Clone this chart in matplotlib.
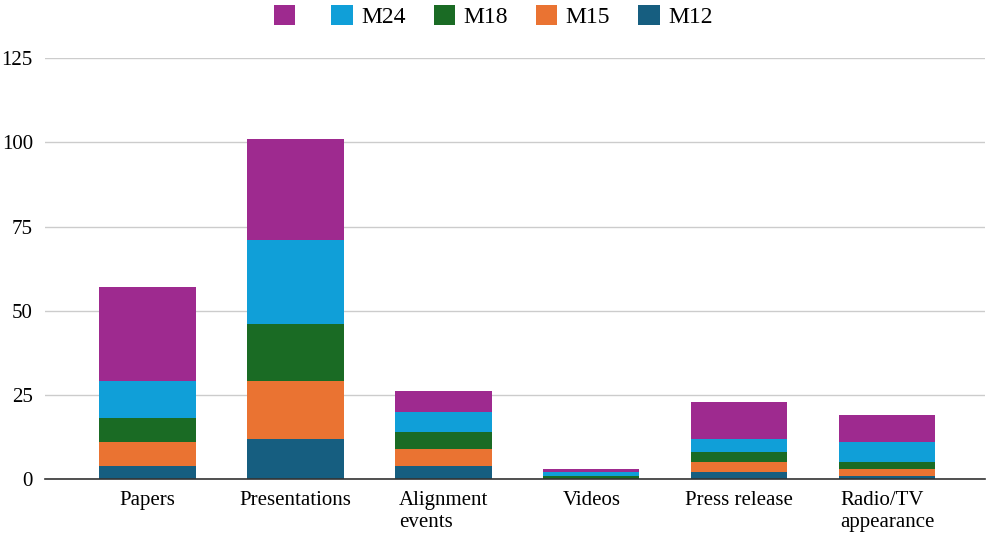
import numpy as np
import matplotlib.pyplot as plt
from matplotlib.patches import Patch

plt.rcParams['font.family'] = ['Liberation Serif', 'DejaVu Serif']

# Données
categories = ['Papers', 'Presentations', 'Alignment\nevents', 'Videos',
              'Press release', 'Radio/TV\nappearance']
m12 = [4, 12, 4, 0, 2, 1]
m15 = [7, 17, 5, 0, 3, 2]
m18 = [7, 17, 5, 1, 3, 2]
m24 = [11, 25, 6, 1, 4, 6]
extra = [28, 30, 6, 1, 11, 8]

series = [('M12', m12, '#165e80'),
          ('M15', m15, '#ea7332'),
          ('M18', m18, '#1a6b24'),
          ('M24', m24, '#109fd8'),
          ('', extra, '#9e2a8f')]

fig = plt.figure(figsize=(9.86, 5.34), dpi=100)
ax = fig.add_axes([0.046, 0.103, 0.953, 0.788])

x = np.arange(len(categories))
bottom = np.zeros(len(categories))
for label, vals, color in series:
    vals = np.array(vals, dtype=float)
    ax.bar(x, vals, bottom=bottom, width=0.65, color=color, linewidth=0, zorder=3)
    bottom += vals

ax.set_xlim(-0.69, 5.66)
ax.set_ylim(0, 125)
ax.set_yticks([0, 25, 50, 75, 100, 125])
ax.set_xticks(x)
ax.set_xticklabels(categories, fontsize=15, linespacing=1.15, multialignment='left')
ax.tick_params(axis='y', labelsize=15, length=0, pad=9)
ax.tick_params(axis='x', length=0, pad=9)
ax.grid(axis='y', color='#cccccc', linewidth=1, zorder=0)
for s in ['top', 'right', 'left']:
    ax.spines[s].set_visible(False)
ax.spines['bottom'].set_color('#333333')
ax.spines['bottom'].set_linewidth(1.2)
ax.spines['bottom'].set_zorder(4)

# Légende en haut, ordre inversé
handles = [Patch(facecolor=c, edgecolor='none', label=l) for l, _, c in series[::-1]]
fig.legend(handles=handles, loc='upper center', bbox_to_anchor=(0.5, 1.03),
           ncol=5, frameon=False, fontsize=17, handlelength=0.9, handleheight=0.9,
           columnspacing=1.2, handletextpad=0.35)

plt.savefig('out.png', dpi=100)
